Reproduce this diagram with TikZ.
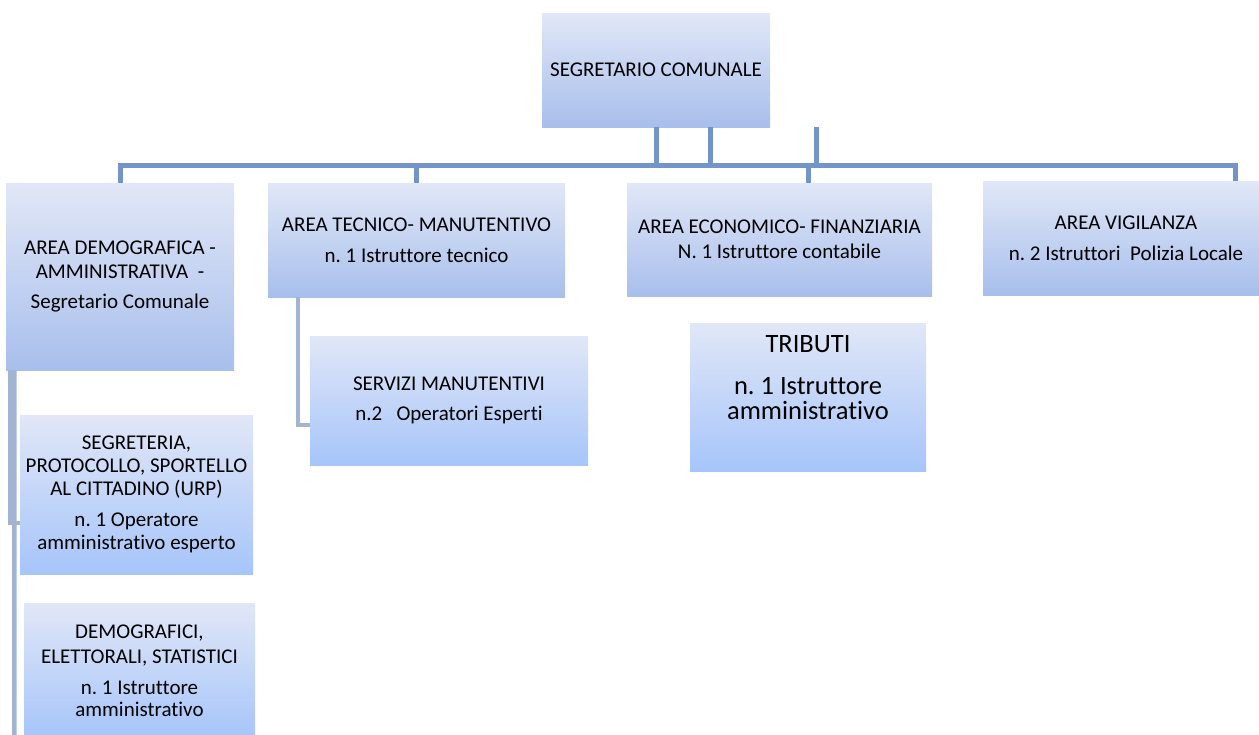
\documentclass[tikz,border=0pt]{standalone}
\usepackage{fontspec}
\setmainfont{Carlito}[Ligatures={NoCommon,NoContextual}, Contextuals=NoAlternate]
\definecolor{boxtop}{HTML}{E1E7F7}
\definecolor{boxbot}{HTML}{A8BFEC}
\definecolor{subbot}{HTML}{A6C5FA}
\definecolor{connA}{HTML}{7394C8}
\definecolor{connB}{HTML}{A2B3D3}
\tikzset{
  orgbox/.style={shade, top color=boxtop, bottom color=boxbot, inner sep=0pt,
    align=center, text=black, font=\frenchspacing\fontsize{21}{24}\selectfont},
  subbox/.style={orgbox, bottom color=subbot},
  mainconn/.style={draw=connA, line width=5pt},
  subconn/.style={draw=connB, line width=4.5pt},
}
\begin{document}
\begin{tikzpicture}[x=1pt,y=-1pt]
\useasboundingbox (0,0) rectangle (1259,734);
\clip (0,0) rectangle (1259,734);
% top level
\node[orgbox, minimum width=228pt, minimum height=114pt] (top) at (656,70) {SEGRETARIO COMUNALE};
% areas
\node[orgbox, minimum width=228pt, minimum height=187pt] (demo) at (120,276.5)
  {AREA DEMOGRAFICA -\\AMMINISTRATIVA\ \ -\\[6pt]Segretario Comunale};
\node[orgbox, minimum width=297pt, minimum height=114pt] (tecn) at (416.5,240)
  {AREA TECNICO- MANUTENTIVO\\[7pt]n. 1 Istruttore tecnico};
\node[orgbox, minimum width=305pt, minimum height=113pt] (econ) at (779.5,239.5)
  {AREA ECONOMICO- FINANZIARIA\\[1pt]N. 1 Istruttore contabile};
\node[orgbox, minimum width=286pt, minimum height=114pt] (vig) at (1126,238)
  {AREA VIGILANZA\\[7pt]n. 2 Istruttori\ \ Polizia Locale};
% sub units
\node[subbox, minimum width=278pt, minimum height=129pt] (serv) at (449,400.5)
  {SERVIZI MANUTENTIVI\\[6pt]n.2\ \ \ Operatori Esperti};
\node[subbox, minimum width=236pt, minimum height=148pt] (trib) at (808,397) {};
\node[align=center, inner sep=0pt, font=\frenchspacing\fontsize{26.5}{25}\selectfont] (tribtext) at (808,378)
  {TRIBUTI\\[17pt]n. 1 Istruttore\\amministrativo};
\node[subbox, minimum width=233pt, minimum height=159pt, font=\frenchspacing\fontsize{21}{23}\selectfont] (segr) at (136.5,494.5)
  {SEGRETERIA,\\PROTOCOLLO, SPORTELLO\\AL CITTADINO (URP)\\[8pt]n. 1 Operatore\\amministrativo esperto};
\node[subbox, minimum width=231pt, minimum height=135pt, font=\frenchspacing\fontsize{21}{25}\selectfont] (demg) at (139.5,670.5)
  {DEMOGRAFICI,\\ELETTORALI, STATISTICI\\[6pt]n. 1 Istruttore\\[-3pt]amministrativo};
% main connectors
\draw[mainconn] (top.south) -- ++(0,38) -| (demo.north);
\draw[mainconn] (top.south) -- ++(0,38) -| (tecn.north);
\draw[mainconn] (top.south) -- ++(0,38) -| (econ.north -| trib.north);
\draw[mainconn] (top.south) -- ++(0,38) -| ([xshift=109pt]vig.north);
\draw[mainconn] ([xshift=54pt]top.south) -- ++(0,38);
\draw[mainconn] ([xshift=46pt]top.south east) -- ++(0,38);
% secondary connectors
\draw[subconn] ([xshift=30pt]tecn.south west) |- ([yshift=-24.5pt]serv.west);
\draw[subconn] ([xshift=4.5pt]demo.south west) |- ([yshift=-28.5pt]segr.west);
\coordinate (demgend) at (14.5,760);
\draw[subconn] ([xshift=8.5pt]demo.south west) -- (demgend);
\end{tikzpicture}
\end{document}
